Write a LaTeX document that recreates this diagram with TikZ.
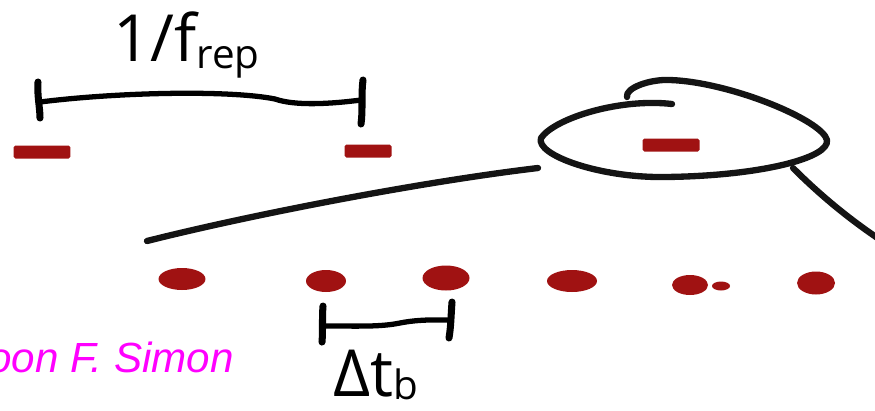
\documentclass[tikz,border=0pt]{standalone}
\usepackage{fontspec}
\setmainfont{Open Sans}
\newfontfamily\creditfont{Liberation Sans}
\usetikzlibrary{shapes.geometric}
\definecolor{pulsered}{HTML}{A01212}
\definecolor{creditpink}{HTML}{FF00FF}
\begin{document}
\begin{tikzpicture}[x=0.02cm,y=-0.02cm,
    pen/.style={line width=3pt,line cap=round,line join=round},
    tick pen/.style={line width=4pt,line cap=round},
    loop pen/.style={line width=3.6pt,line cap=round,line join=round,black!92},
    seed pulse/.style={rectangle,rounded corners=1pt,fill=pulsered,inner sep=0pt,minimum height=0.26cm},
    burst pulse/.style={ellipse,fill=pulsered,inner sep=0pt},
    big label/.style={font=\fontsize{37}{37}\selectfont,inner sep=0pt}]
  \clip (0,0) rectangle (875,410);

  % upper pulse train
  \node[seed pulse, minimum width=1.14cm] at (42,152) (s1) {};
  \node[seed pulse, minimum width=0.94cm] at (368,151) (s2) {};
  \node[seed pulse, minimum width=1.14cm] at (671,145) (s3) {};

  % lower pulse train (bursts)
  \node[burst pulse, minimum width=0.94cm, minimum height=0.44cm] at (182,279) (b1) {};
  \node[burst pulse, minimum width=0.80cm, minimum height=0.44cm] at (326,281) (b2) {};
  \node[burst pulse, minimum width=0.94cm, minimum height=0.50cm] at (446,278) (b3) {};
  \node[burst pulse, minimum width=1.00cm, minimum height=0.44cm] at (572,281) (b4) {};
  \node[burst pulse, minimum width=0.72cm, minimum height=0.40cm] at (690,285) (b5) {};
  \node[burst pulse, minimum width=0.36cm, minimum height=0.18cm] at (721,286) (b5tail) {};
  \node[burst pulse, minimum width=0.76cm, minimum height=0.46cm] at (816,283) (b6) {};

  % 1/f_rep bracket
  \coordinate (rep l) at (40,102);
  \coordinate (rep r) at (361,100);
  \draw[tick pen] (38,82) .. controls (37,95) and (40,108) .. (40,118);
  \draw[tick pen] (363,80) .. controls (361,95) and (363,110) .. (361,124);
  \draw[pen] (rep l) .. controls (120,92) and (230,90) .. (275,99)
                     .. controls (295,106) and (330,104) .. (rep r);
  \node[big label, anchor=base west] at (113,61) (rep label)
    {1/f\raisebox{-0.22ex}{\fontsize{23}{23}\selectfont rep}};

  % magnifier loop round one pulse
  \draw[loop pen] (672,104) .. controls (620,98) and (555,118) .. (541,138)
                  .. controls (535,155) and (600,178) .. (665,177)
                  .. controls (760,176) and (830,158) .. (827,140)
                  .. controls (822,120) and (730,82) .. (670,80)
                  .. controls (650,79) and (625,88) .. (627,97);
  \draw[loop pen] (147,241) .. controls (250,215) and (420,182) .. (538,168);
  \draw[loop pen] (793,168) .. controls (820,195) and (850,220) .. (885,243);

  % Delta t_b bracket
  \coordinate (dt l) at (324,326);
  \coordinate (dt r) at (450,320);
  \draw[tick pen] (323,306) .. controls (322,318) and (323,330) .. (322,342);
  \draw[tick pen] (452,302) .. controls (451,315) and (451,326) .. (449,338);
  \draw[pen] (dt l) .. controls (360,326) and (380,327) .. (400,323)
                    .. controls (420,319) and (440,320) .. (dt r);
  \node[big label, anchor=base west] at (333,396) (dt label)
    {Δt\raisebox{-0.1ex}{\fontsize{23}{23}\selectfont b}};

  % credit line
  \node[anchor=base west, inner sep=0pt, text=creditpink,
        font=\creditfont\itshape\fontsize{24}{24}\selectfont] at (-12,372) (credit) {oon F. Simon};
\end{tikzpicture}
\end{document}
